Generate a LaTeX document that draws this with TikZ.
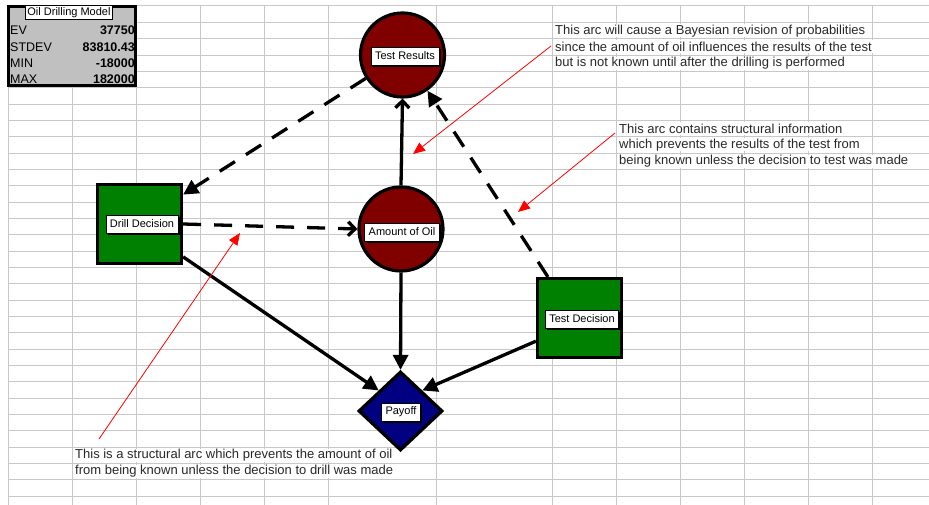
\documentclass[tikz,border=0pt]{standalone}
\usepackage{fontspec}
\setmainfont{Liberation Sans}
\usetikzlibrary{arrows.meta,shapes.geometric,shadows,calc}
\definecolor{gridc}{RGB}{200,200,200}
\definecolor{oilred}{RGB}{128,0,0}
\definecolor{decgreen}{RGB}{0,128,0}
\definecolor{paynavy}{RGB}{0,0,128}
\definecolor{tabgray}{RGB}{192,192,192}
\definecolor{notetext}{RGB}{40,40,40}
\begin{document}
\begin{tikzpicture}[x=1bp,y=-1bp,
  gridline/.style={draw=gridc,line width=1bp},
  chance/.style={circle,draw=black,line width=3.2bp,fill=oilred,minimum size=84bp,inner sep=0pt},
  decision/.style={rectangle,draw=black,line width=3.2bp,fill=decgreen,minimum width=84bp,minimum height=79bp,inner sep=0pt},
  valuenode/.style={diamond,draw=black,line width=3.2bp,fill=paynavy,minimum width=84bp,minimum height=79bp,inner sep=0pt},
  lbl/.style={rectangle,draw=black,line width=0.8bp,fill=white,font=\fontsize{11bp}{12bp}\selectfont,inner xsep=4bp,inner ysep=0pt,minimum height=18bp,drop shadow={shadow xshift=2bp,shadow yshift=-2bp,fill=black,opacity=1}},
  note/.style={fill=white,inner xsep=1bp,inner ysep=0pt,minimum height=13bp,anchor=west,text=notetext,font=\fontsize{13bp}{15bp}\selectfont},
  tabtxt/.style={inner sep=0pt,font=\fontsize{12.5bp}{14bp}\selectfont},
  conn/.style={line width=3.3bp},
  dashconn/.style={line width=3.3bp,dash pattern=on 18bp off 13bp},
  fillhead/.style={-{Triangle[length=15bp,width=15bp]}},
  openhead/.style={-{Straight Barb[length=7bp,width=14bp,line width=3.3bp]}},
  redarrow/.style={draw=red,line width=0.8bp,-{Triangle[length=12bp,width=10bp]}},
]
\useasboundingbox (0,0) rectangle (929,505);
% spreadsheet grid
\draw[gridline] (8,5.5) -- (929,5.5);
\foreach \k in {0,...,29} \draw[gridline] (8,{22.5+16.33*\k}) -- (929,{22.5+16.33*\k});
\foreach \x in {8,72,136,200,264,328,436,552,616,680,744,808,872} \draw[gridline] (\x,5.5) -- (\x,505);

% statistics table
\node[draw=black,line width=3bp,fill=tabgray,minimum width=127bp,minimum height=79bp,inner sep=0pt] (stats) at (72,46) {};
\node[draw=black,line width=0.8bp,fill=white,inner xsep=2bp,inner ysep=1.5bp,font=\fontsize{11bp}{12bp}\selectfont] (stitle) at (69,12.5) {Oil Drilling Model};
\node[tabtxt,anchor=west] (evl) at (10,30.7) {EV};
\node[tabtxt,anchor=east,font=\fontsize{12.5bp}{14bp}\selectfont\bfseries] (evv) at (135,30.7) {37750};
\node[tabtxt,anchor=west] (sdl) at (10,47) {STDEV};
\node[tabtxt,anchor=east,font=\fontsize{12.5bp}{14bp}\selectfont\bfseries] (sdv) at (135,47) {83810.43};
\node[tabtxt,anchor=west] (mnl) at (10,63.3) {MIN};
\node[tabtxt,anchor=east,font=\fontsize{12.5bp}{14bp}\selectfont\bfseries] (mnv) at (135,63.3) {-18000};
\node[tabtxt,anchor=west] (mxl) at (10,79.7) {MAX};
\node[tabtxt,anchor=east,font=\fontsize{12.5bp}{14bp}\selectfont\bfseries] (mxv) at (135,79.7) {182000};

% influence diagram nodes
\node[chance] (tr) at (402.5,55) {};
\node[chance] (aoo) at (401,229) {};
\node[decision] (dd) at (139.5,224) {};
\node[decision] (td) at (579.5,318) {};
\node[valuenode] (pay) at (400.5,411) {};

% connectors
\draw[dashconn,fillhead] (tr) -- (dd.34);
\draw[dashconn,openhead] (dd.east) -- (aoo.west);
\draw[conn,openhead] (aoo.north) -- (tr.south);
\coordinate (tds) at ($(td.north west)+(12,0)$);
\draw[dashconn,fillhead] (tds) -- (tr.-55);
\draw[conn,fillhead] (aoo.south) -- (pay.north);
\draw[conn,fillhead] (dd.-37) -- (pay.north west);
\draw[conn,fillhead] (td.-152) -- (pay.north east);

% labels
\node[lbl] (trl) at (405,56) {Test Results};
\node[lbl] (aool) at (402,232) {Amount of Oil};
\node[lbl] (ddl) at (142,224) {Drill Decision};
\node[lbl] (tdl) at (582,319) {Test Decision};
\node[lbl] (payl) at (401,412) {Payoff};

% notes
\node[note] (n1a) at (554,30.7) {This arc will cause a Bayesian revision of probabilities};
\node[note] (n1b) at (554,47) {since the amount of oil influences the results of the test};
\node[note] (n1c) at (554,63.3) {but is not known until after the drilling is performed};
\node[note] (n2a) at (618,128.6) {This arc contains structural information};
\node[note] (n2b) at (618,145) {which prevents the results of the test from};
\node[note] (n2c) at (618,161.3) {being known unless the decision to test was made};
\node[note] (n3a) at (74,455.3) {This is a structural arc which prevents the amount of oil};
\node[note] (n3b) at (74,471.6) {from being known unless the decision to drill was made};

% red pointer arrows
\coordinate (r1s) at (551,46);
\coordinate (r1e) at (413,154);
\coordinate (r2s) at (615,133);
\coordinate (r2e) at (518,212);
\coordinate (r3s) at (99,439);
\coordinate (r3e) at (240,233);
\draw[redarrow] (r1s) -- (r1e);
\draw[redarrow] (r2s) -- (r2e);
\draw[redarrow] (r3s) -- (r3e);
\end{tikzpicture}
\end{document}
